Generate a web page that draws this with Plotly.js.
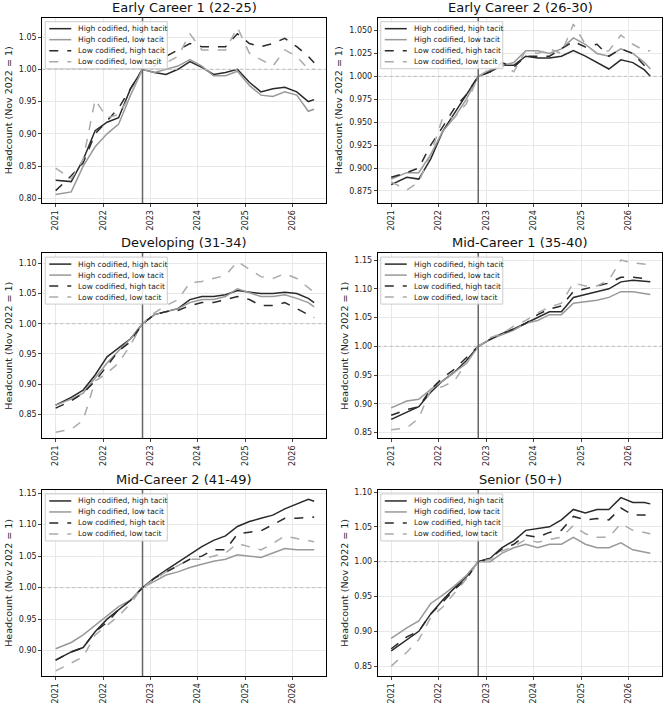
<!DOCTYPE html>
<html><head><meta charset="utf-8">
<script src="https://cdn.plot.ly/plotly-3.0.1.min.js"></script>
<style>body{margin:0;background:#fff}#chart{width:671px;height:707px}</style>
</head><body><div id="chart"></div>
<script>
// sample dates (quarterly, aligned so Nov 2022 is a point)
const dates = ["2021-01-01","2021-05-01","2021-08-01","2021-11-01","2022-02-01","2022-05-01","2022-08-01","2022-11-01",
  "2023-02-01","2023-05-01","2023-08-01","2023-11-01","2024-02-01","2024-05-01","2024-08-01","2024-11-01",
  "2025-02-01","2025-05-01","2025-08-01","2025-11-01","2026-02-01","2026-05-01","2026-06-15"];

const seriesNames = ["High codified, high tacit","High codified, low tacit","Low codified, high tacit","Low codified, low tacit"];
const panelTitles = ["Early Career 1 (22-25)","Early Career 2 (26-30)","Developing (31-34)","Mid-Career 1 (35-40)","Mid-Career 2 (41-49)","Senior (50+)"];

const ec1HH = [0.828,0.826,0.86,0.905,0.918,0.925,0.97,1.0,0.995,0.992,1.0,1.012,1.003,0.992,0.995,1.0,0.98,0.965,0.97,0.972,0.965,0.95,0.953];
const ec1HL = [0.806,0.81,0.85,0.88,0.90,0.915,0.96,1.0,0.995,1.0,1.005,1.015,1.005,0.99,0.99,0.997,0.975,0.96,0.958,0.965,0.96,0.935,0.938];
const ec1LH = [0.812,0.835,0.855,0.90,0.92,0.94,0.97,1.0,1.005,1.02,1.03,1.04,1.035,1.035,1.035,1.055,1.04,1.035,1.04,1.048,1.035,1.02,1.01];
const ec1LL = [0.847,0.83,0.86,0.953,0.925,0.93,0.96,1.0,1.01,1.01,1.02,1.055,1.03,1.03,1.03,1.065,1.025,1.015,1.005,1.03,1.02,1.0,1.0];

const ec2HH = [0.882,0.89,0.888,0.91,0.94,0.96,0.98,1.0,1.005,1.012,1.012,1.022,1.02,1.02,1.022,1.028,1.022,1.015,1.008,1.018,1.015,1.007,1.0];
const ec2HL = [0.888,0.895,0.895,0.915,0.94,0.955,0.975,1.0,1.007,1.012,1.015,1.028,1.028,1.025,1.03,1.042,1.035,1.025,1.022,1.03,1.025,1.015,1.008];
const ec2LH = [0.89,0.895,0.9,0.925,0.945,0.965,0.98,1.0,1.005,1.015,1.01,1.022,1.022,1.022,1.03,1.038,1.032,1.035,1.022,1.03,1.025,1.012,1.005];
const ec2LL = [0.885,0.876,0.885,0.915,0.955,0.955,0.97,1.0,1.008,1.012,1.005,1.028,1.025,1.03,1.025,1.057,1.035,1.025,1.028,1.045,1.035,1.028,1.028];

const devHH = [0.865,0.878,0.89,0.915,0.945,0.96,0.975,1.0,1.015,1.02,1.025,1.04,1.045,1.045,1.048,1.055,1.052,1.05,1.05,1.052,1.05,1.042,1.035];
const devHL = [0.865,0.875,0.885,0.91,0.935,0.955,0.975,1.0,1.015,1.02,1.025,1.035,1.04,1.04,1.045,1.058,1.052,1.045,1.045,1.048,1.042,1.035,1.028];
const devLH = [0.86,0.872,0.885,0.905,0.93,0.955,0.97,1.0,1.015,1.02,1.022,1.03,1.035,1.035,1.04,1.045,1.04,1.03,1.03,1.035,1.025,1.015,1.01];
const devLL = [0.82,0.825,0.84,0.905,0.918,0.935,0.965,1.0,1.018,1.03,1.04,1.068,1.07,1.075,1.08,1.103,1.09,1.078,1.075,1.083,1.075,1.06,1.052];

const mc1HH = [0.873,0.885,0.895,0.92,0.94,0.955,0.975,1.0,1.012,1.022,1.03,1.04,1.05,1.06,1.06,1.085,1.09,1.095,1.1,1.112,1.115,1.113,1.112];
const mc1HL = [0.893,0.905,0.908,0.925,0.94,0.955,0.97,1.0,1.012,1.02,1.028,1.04,1.045,1.055,1.055,1.075,1.078,1.08,1.085,1.095,1.095,1.092,1.09];
const mc1LH = [0.88,0.89,0.895,0.925,0.945,0.96,0.98,1.0,1.012,1.022,1.03,1.04,1.055,1.065,1.07,1.095,1.1,1.105,1.11,1.12,1.12,1.118,1.115];
const mc1LL = [0.855,0.858,0.875,0.925,0.93,0.94,0.97,1.0,1.015,1.022,1.035,1.045,1.058,1.068,1.075,1.11,1.105,1.105,1.115,1.15,1.145,1.143,1.142];

const mc2HH = [0.885,0.898,0.905,0.93,0.95,0.965,0.98,1.0,1.015,1.028,1.04,1.052,1.065,1.075,1.082,1.097,1.105,1.11,1.115,1.125,1.133,1.14,1.137];
const mc2HL = [0.903,0.913,0.925,0.94,0.955,0.97,0.98,1.0,1.01,1.02,1.025,1.032,1.037,1.042,1.045,1.052,1.05,1.048,1.055,1.062,1.06,1.06,1.06];
const mc2LH = [0.885,0.898,0.905,0.93,0.945,0.965,0.98,1.0,1.015,1.025,1.035,1.045,1.05,1.06,1.06,1.085,1.088,1.09,1.1,1.11,1.11,1.112,1.112];
const mc2LL = [0.868,0.88,0.89,0.925,0.94,0.955,0.975,1.0,1.013,1.025,1.035,1.045,1.045,1.05,1.055,1.07,1.065,1.06,1.07,1.082,1.078,1.075,1.073];

const senHH = [0.872,0.888,0.9,0.925,0.945,0.962,0.978,1.0,1.005,1.02,1.03,1.045,1.048,1.05,1.06,1.075,1.07,1.075,1.075,1.092,1.085,1.085,1.083];
const senHL = [0.89,0.905,0.915,0.94,0.952,0.965,0.98,1.0,1.0,1.012,1.02,1.025,1.02,1.025,1.025,1.035,1.025,1.02,1.02,1.027,1.017,1.014,1.012];
const senLH = [0.875,0.892,0.9,0.925,0.942,0.96,0.975,1.0,1.005,1.018,1.025,1.038,1.035,1.042,1.045,1.065,1.06,1.062,1.06,1.077,1.067,1.067,1.065];
const senLL = [0.85,0.87,0.888,0.92,0.935,0.955,0.975,1.0,1.003,1.015,1.022,1.032,1.028,1.032,1.035,1.052,1.04,1.035,1.035,1.055,1.045,1.042,1.04];

const panels = [
  [ec1HH, ec1HL, ec1LH, ec1LL],
  [ec2HH, ec2HL, ec2LH, ec2LL],
  [devHH, devHL, devLH, devLL],
  [mc1HH, mc1HL, mc1LH, mc1LL],
  [mc2HH, mc2HL, mc2LH, mc2LL],
  [senHH, senHL, senLH, senLL]
];
const yRanges = [[0.793,1.08],[0.862,1.064],[0.81,1.117],[0.84,1.162],[0.86,1.155],[0.836,1.103]];
const yTicks = [
  [0.80,0.85,0.90,0.95,1.00,1.05],
  [0.875,0.900,0.925,0.950,0.975,1.000,1.025,1.050],
  [0.85,0.90,0.95,1.00,1.05,1.10],
  [0.85,0.90,0.95,1.00,1.05,1.10,1.15],
  [0.90,0.95,1.00,1.05,1.10,1.15],
  [0.85,0.90,0.95,1.00,1.05,1.10]
];
const yTickFmt = ['.2f','.3f','.2f','.2f','.2f','.2f'];
const styles = [
  {color:'#2a2a2a', dash:'solid'},
  {color:'#999999', dash:'solid'},
  {color:'#2a2a2a', dash:'dash'},
  {color:'#aaaaaa', dash:'dash'}
];

const W = 671, H = 707;
const xDom = [[0.063,0.486],[0.563,0.987]];
const yDom = [[0.713,0.975],[0.380,0.642],[0.044,0.307]];
const yearTicks = ["2021-01-01","2022-01-01","2023-01-01","2024-01-01","2025-01-01","2026-01-01"];

const traces = [], layout = {
  width:W, height:H, margin:{l:0,r:0,t:0,b:0}, showlegend:false,
  paper_bgcolor:'#fff', plot_bgcolor:'#fff',
  font:{family:'DejaVu Sans', size:8, color:'#222'},
  shapes:[], annotations:[]
};

panels.forEach((p, i) => {
  const n = i + 1, sfx = n === 1 ? '' : n;
  const col = i % 2, row = Math.floor(i / 2);
  p.forEach((vals, s) => {
    traces.push({
      x: dates, y: vals, type:'scatter', mode:'lines', name: seriesNames[s],
      xaxis:'x'+sfx, yaxis:'y'+sfx,
      line:{color:styles[s].color, dash:styles[s].dash, width:1.5}
    });
  });
  layout['xaxis'+sfx] = {
    domain:xDom[col], anchor:'y'+sfx, type:'date',
    range:['2020-09-20','2026-09-15'], tickvals:yearTicks, tickformat:'%Y', tickangle:-90,
    showgrid:true, gridcolor:'#e8e8e8', showline:true, mirror:true, linecolor:'#000', linewidth:1,
    ticks:'outside', ticklen:3, zeroline:false, tickfont:{size:8}
  };
  layout['yaxis'+sfx] = {
    domain:yDom[row], anchor:'x'+sfx, range:yRanges[i], tickvals:yTicks[i], tickformat:yTickFmt[i],
    showgrid:true, gridcolor:'#e8e8e8', showline:true, mirror:true, linecolor:'#000', linewidth:1,
    ticks:'outside', ticklen:3, zeroline:false, tickfont:{size:8},
    title:{text:'Headcount (Nov 2022 = 1)', font:{size:9.5}, standoff:4}
  };
  layout.shapes.push({type:'line', xref:'x'+sfx, yref:'y'+sfx+' domain', x0:'2022-11-01', x1:'2022-11-01', y0:0, y1:1,
    line:{color:'#666', width:1.5}});
  layout.shapes.push({type:'line', xref:'x'+sfx+' domain', yref:'y'+sfx, x0:0, x1:1, y0:1, y1:1,
    line:{color:'#bbb', width:1, dash:'dot'}});
  layout.annotations.push({text:panelTitles[i], xref:'paper', yref:'paper',
    x:(xDom[col][0]+xDom[col][1])/2, y:yDom[row][1], yanchor:'bottom', xanchor:'center',
    showarrow:false, font:{size:13, color:'#111'}, yshift:1});

  // compact legend box (matplotlib style), placed in pixels from panel top-left
  const px = xDom[col][0]*W, py = (1-yDom[row][1])*H;
  const X = v => (px+v)/W, Y = v => 1-(py+v)/H;
  layout.shapes.push({type:'rect', xref:'paper', yref:'paper', x0:X(3), x1:X(125), y0:Y(4), y1:Y(51),
    line:{color:'#ccc', width:1}, fillcolor:'rgba(255,255,255,0.85)', layer:'above'});
  seriesNames.forEach((nm, s) => {
    const ry = 11 + s*11;
    layout.shapes.push({type:'line', xref:'paper', yref:'paper', x0:X(7), x1:X(29), y0:Y(ry), y1:Y(ry),
      line:{color:styles[s].color, dash:styles[s].dash, width:1.5}, layer:'above'});
    layout.annotations.push({text:nm, xref:'paper', yref:'paper', x:X(34), y:Y(ry), xanchor:'left', yanchor:'middle',
      showarrow:false, font:{size:7.5, color:'#222'}});
  });
});

Plotly.newPlot('chart', traces, layout, {staticPlot:true});
</script></body></html>
